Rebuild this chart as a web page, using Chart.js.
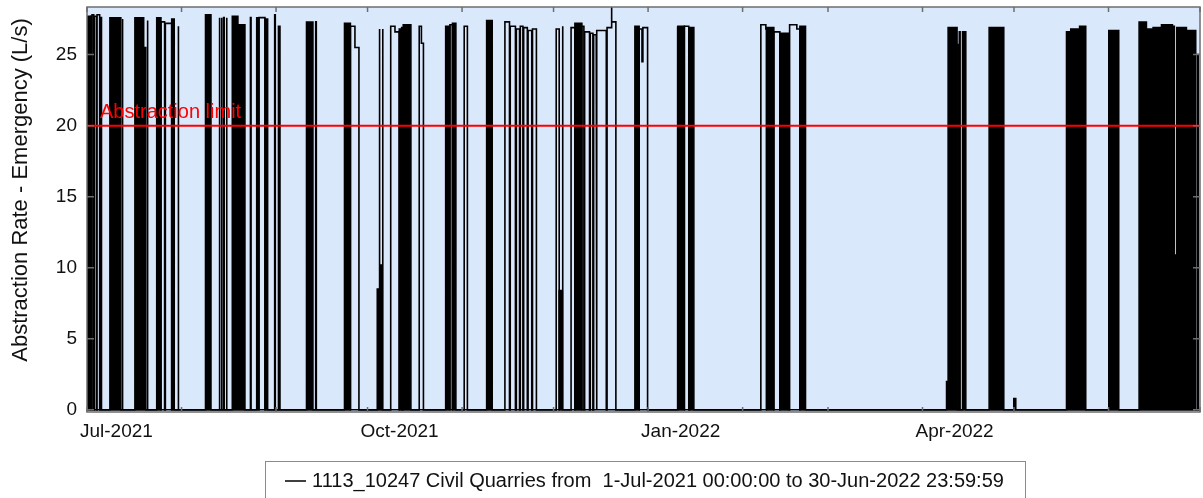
<!DOCTYPE html>
<html>
<head>
<meta charset="utf-8">
<script src="https://cdn.jsdelivr.net/npm/chart.js@4.4.1/dist/chart.umd.min.js"></script>
<style>
  html, body { margin: 0; padding: 0; background: #fff; }
  #wrap { width: 1203px; height: 498px; position: relative; }
</style>
</head>
<body>
<div id="wrap"><canvas id="chart"></canvas></div>
<script>
// x values are days since 1-Jul-2021 00:00
const monthDays = [0, 31, 62, 92, 123, 153, 184, 215, 243, 274, 304, 335, 365];
const monthLabels = ['Jul-2021', '', '', 'Oct-2021', '', '', 'Jan-2022', '', '', 'Apr-2022', '', '', ''];
const yTicks = [0, 5, 10, 15, 20, 25];
const limitValue = 20;
const limitLabel = 'Abstraction limit';
const yTitle = 'Abstraction Rate - Emergency (L/s)';
const seriesName = '1113_10247 Civil Quarries from  1-Jul-2021 00:00:00 to 30-Jun-2022 23:59:59';

// periods of rapid on/off pumping (drawn solid): [from, to, top L/s]
const denseBlocks = [
  [0, 1.3, 27.7], [7.5, 11.1, 27.6], [15.7, 18.6, 27.6], [18.6, 19.3, 25.5],
  [22.85, 24.26, 27.6], [27.77, 28.62, 27.5], [38.85, 40.66, 27.8],
  [47.64, 49.5, 27.7], [49.5, 51.8, 27.1], [55.64, 56.39, 27.6], [58.36, 59.25, 27.5],
  [71.97, 74.1, 27.3], [84.43, 86.39, 27.2], [95.18, 96.07, 8.5], [96.07, 96.82, 10.2],
  [102.39, 103.18, 26.8], [103.7, 106.23, 27.1], [117.61, 119.02, 27.0], [119.84, 120.98, 27.2],
  [131.05, 132.89, 27.4], [154.85, 155.9, 8.4], [160.0, 162.3, 27.2], [179.67, 181.08, 27.0],
  [193.77, 195.9, 27.0], [197.7, 199.02, 26.9], [222.85, 225.25, 26.9], [227.21, 230.26, 26.5],
  [233.77, 235.64, 27.0], [281.87, 282.39, 2.0], [282.39, 285.34, 26.9], [287.11, 288.2, 26.6],
  [295.84, 300.66, 26.9], [303.93, 304.59, 0.8],
  [321.21, 322.6, 26.6], [322.6, 325.5, 26.8], [325.5, 327.54, 27.0], [335.08, 338.36, 26.7],
  [345.02, 347.44, 27.3], [347.44, 349.61, 26.8], [349.61, 352.36, 26.9], [352.36, 355.97, 27.1],
  [355.97, 357.38, 10.9], [357.38, 360.56, 26.9], [360.56, 363.61, 26.7]
];

// steady running and single pulses (drawn as a line): [from, to, rate L/s]
const traceRuns = [
  [1.3, 1.45, 27.7], [1.65, 2.2, 27.8], [2.4, 3.1, 27.7], [3.3, 4.15, 27.8], [4.35, 4.75, 27.6],
  [11.5, 11.75, 27.5], [19.75, 19.95, 27.4], [24.26, 25.45, 27.3], [25.7, 27.77, 27.2],
  [29.85, 30.05, 27.0], [43.35, 43.55, 27.6], [44.05, 44.25, 27.6], [44.8, 45.0, 27.6],
  [45.7, 45.9, 27.6], [53.6, 53.8, 27.6], [56.39, 58.36, 27.6], [61.55, 61.75, 27.8],
  [62.79, 63.28, 27.0], [75.0, 75.2, 27.3], [86.39, 87.87, 27.0], [87.87, 89.18, 25.5],
  [95.85, 96.0, 26.8], [96.9, 97.05, 26.8], [99.6, 101.0, 27.0], [101.0, 102.39, 26.6],
  [103.18, 103.7, 26.9], [108.95, 109.67, 27.0], [109.67, 110.33, 25.8], [119.02, 119.84, 27.1],
  [123.7, 124.75, 27.0], [137.05, 138.55, 27.3], [138.8, 140.5, 27.0], [140.8, 141.85, 26.8],
  [142.1, 142.95, 27.0], [143.2, 144.4, 26.9], [144.65, 145.85, 26.7], [146.1, 147.38, 26.8],
  [153.87, 154.85, 26.8], [155.9, 156.07, 27.0], [158.75, 160.0, 26.9], [162.3, 162.95, 27.0],
  [163.2, 164.8, 26.6], [165.05, 165.9, 26.5], [166.15, 167.0, 26.4], [167.25, 170.3, 26.7],
  [170.55, 171.97, 26.9], [171.97, 172.1, 28.4], [172.1, 173.44, 27.3],
  [181.08, 182.0, 26.8], [182.0, 182.3, 24.5], [182.3, 183.84, 26.9],
  [193.54, 193.77, 27.0], [195.9, 197.35, 27.0], [197.6, 197.7, 26.9],
  [220.98, 222.62, 27.1], [222.62, 222.85, 26.8], [225.25, 227.21, 26.6], [230.26, 230.49, 26.4],
  [230.49, 232.79, 27.1], [232.79, 233.77, 26.8], [285.34, 285.9, 25.7], [286.07, 286.33, 26.6],
  [356.39, 356.59, 27.0], [364.2, 364.43, 25.0]
];

// turn [from, to, level] runs into a step outline that drops to 0 between runs
function runsToPoints(runs) {
  const pts = [{ x: 0, y: 0 }];
  let prevEnd = null;
  runs.forEach(([a, b, v]) => {
    if (prevEnd === null || Math.abs(a - prevEnd) > 1e-6) {
      if (prevEnd !== null) pts.push({ x: prevEnd, y: 0 });
      pts.push({ x: a, y: 0 });
    }
    pts.push({ x: a, y: v });
    pts.push({ x: b, y: v });
    prevEnd = b;
  });
  pts.push({ x: prevEnd, y: 0 });
  pts.push({ x: 365, y: 0 });
  return pts;
}

const FONT = "'Liberation Sans', Arial, sans-serif";
const plotBg = '#dae8fc';
const frameColor = '#6e6e6e';

const plotFrame = {
  id: 'plotFrame',
  beforeDraw(chart) {
    const { ctx, chartArea: a } = chart;
    ctx.save();
    ctx.fillStyle = plotBg;
    ctx.fillRect(a.left, a.top, a.right - a.left, a.bottom - a.top);
    ctx.restore();
  },
  afterDatasetsDraw(chart) {
    const { ctx, chartArea: a, scales } = chart;
    ctx.save();
    // limit label
    const yl = scales.y.getPixelForValue(limitValue);
    ctx.fillStyle = '#ff0000';
    ctx.font = '20px ' + FONT;
    ctx.textBaseline = 'alphabetic';
    ctx.fillText(limitLabel, a.left + 13, yl - 8);
    // frame
    ctx.strokeStyle = frameColor;
    ctx.lineWidth = 1.5;
    ctx.strokeRect(a.left, a.top, a.right - a.left, a.bottom - a.top);
    // inward tick marks
    ctx.beginPath();
    scales.x.ticks.forEach(t => {
      const px = scales.x.getPixelForValue(t.value);
      ctx.moveTo(px, a.top); ctx.lineTo(px, a.top + 5);
      ctx.moveTo(px, a.bottom); ctx.lineTo(px, a.bottom - 5);
    });
    scales.y.ticks.forEach(t => {
      const py = scales.y.getPixelForValue(t.value);
      ctx.moveTo(a.left, py); ctx.lineTo(a.left + 7, py);
      ctx.moveTo(a.right, py); ctx.lineTo(a.right - 7, py);
    });
    ctx.stroke();
    ctx.restore();
  },
  afterDraw(chart) {
    const { ctx } = chart;
    ctx.save();
    // y axis title
    ctx.translate(21, 190);
    ctx.rotate(-Math.PI / 2);
    ctx.fillStyle = '#111';
    ctx.font = '22px ' + FONT;
    ctx.textAlign = 'center';
    ctx.textBaseline = 'middle';
    ctx.fillText(yTitle, 0, 0);
    ctx.restore();

    // legend box
    ctx.save();
    ctx.strokeStyle = '#8a8a8a';
    ctx.lineWidth = 1;
    ctx.strokeRect(265.5, 461.5, 760, 60);
    ctx.strokeStyle = '#000';
    ctx.lineWidth = 1.5;
    ctx.beginPath();
    ctx.moveTo(285, 481); ctx.lineTo(306, 481);
    ctx.stroke();
    ctx.fillStyle = '#111';
    ctx.font = '20px ' + FONT;
    ctx.textBaseline = 'middle';
    ctx.fillText(seriesName, 312, 481);
    ctx.restore();
  }
};

const chart = new Chart(document.getElementById('chart'), {
  type: 'line',
  data: {
    datasets: [
      {
        label: 'limit',
        data: [{ x: 0, y: limitValue }, { x: 365, y: limitValue }],
        borderColor: '#ff0000',
        borderWidth: 2,
        pointRadius: 0,
        order: 0
      },
      {
        label: seriesName,
        data: runsToPoints(traceRuns),
        borderColor: '#000',
        borderWidth: 1.6,
        pointRadius: 0,
        tension: 0,
        order: 1
      },
      {
        label: 'dense',
        data: runsToPoints(denseBlocks),
        borderColor: '#000',
        backgroundColor: '#000',
        borderWidth: 1.5,
        pointRadius: 0,
        tension: 0,
        fill: 'origin',
        order: 2
      }
    ]
  },
  options: {
    responsive: true,
    maintainAspectRatio: false,
    animation: false,
    events: [],
    layout: { padding: { top: 7, right: 3, left: 0, bottom: 46 } },
    plugins: {
      legend: { display: false },
      tooltip: { enabled: false }
    },
    scales: {
      x: {
        type: 'linear',
        min: 0,
        max: 365,
        grid: { display: false, drawTicks: false },
        border: { display: false },
        afterBuildTicks: s => { s.ticks = monthDays.map(v => ({ value: v })); },
        afterFit: s => { s.height = 40; s.paddingLeft = 0; s.paddingRight = 0; },
        ticks: {
          autoSkip: false,
          maxRotation: 0,
          align: 'start',
          labelOffset: -7,
          padding: 8,
          color: '#111',
          font: { family: FONT, size: 19 },
          callback: (v, i) => monthLabels[i]
        }
      },
      y: {
        min: -0.15,
        max: 28.35,
        grid: { display: false, drawTicks: false },
        border: { display: false },
        afterBuildTicks: s => { s.ticks = yTicks.map(v => ({ value: v })); },
        afterFit: s => { s.width = 87; s.paddingTop = 0; s.paddingBottom = 0; },
        ticks: {
          padding: 10,
          color: '#111',
          font: { family: FONT, size: 19 }
        }
      }
    }
  },
  plugins: [plotFrame]
});
</script>
</body>
</html>
